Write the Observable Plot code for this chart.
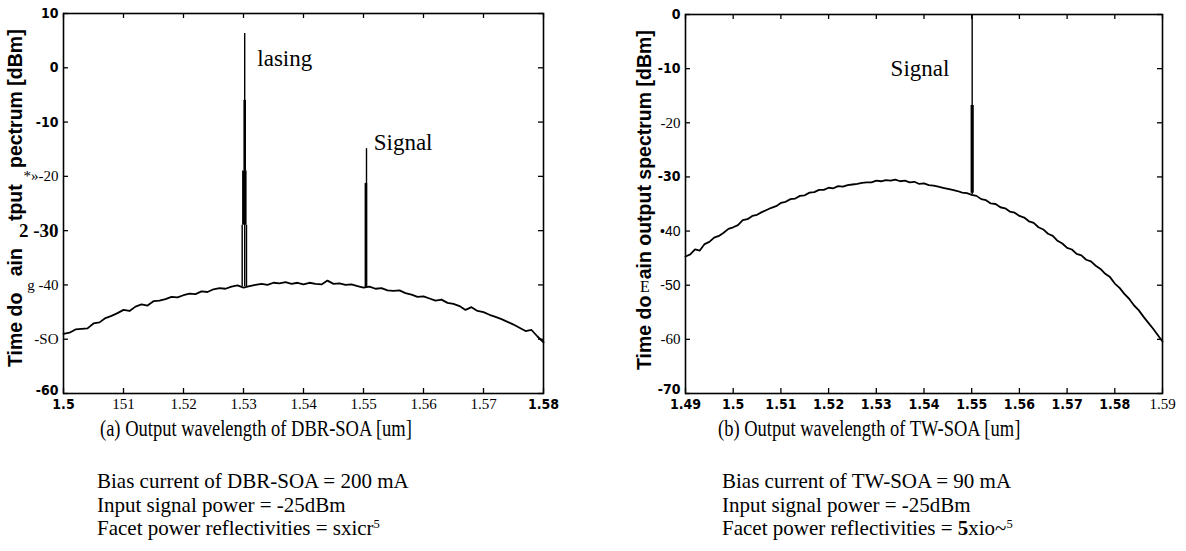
<!DOCTYPE html>
<html><head><meta charset="utf-8">
<script src="https://cdn.jsdelivr.net/npm/d3@7"></script>
<script src="https://cdn.jsdelivr.net/npm/@observablehq/plot@0.6"></script>
<style>
body{margin:0;background:#fff;width:1186px;height:551px;position:relative;overflow:hidden;font-family:"Liberation Serif","Times New Roman",serif;color:#000;}
.abs{position:absolute;white-space:nowrap;color:#000;}
.cap{font-size:18.5px;line-height:1;transform-origin:left top;transform:scaleY(1.2);}
.info{font-size:21px;line-height:23.5px;}
.info sup{font-size:0.6em;line-height:0;vertical-align:0.55em;}
.ytitle{font-family:"Liberation Sans",Arial,sans-serif;font-weight:bold;font-size:19.5px;line-height:1;transform-origin:0 0;transform:rotate(-90deg);}
.stray{font-size:16px;line-height:1;}
</style></head><body>
<div id="pa" class="abs" style="left:0;top:0"></div>
<div id="pb" class="abs" style="left:590px;top:0"></div>
<div class="abs ytitle" style="left:5.6px;top:367px">Time do&nbsp;&nbsp;&nbsp;ain&nbsp;&nbsp;&nbsp;&nbsp;&nbsp;tput&nbsp;&nbsp;&nbsp;pectrum [dBm]</div>
<div class="abs ytitle" style="left:634.6px;top:370px">Time do&nbsp;&nbsp;&nbsp;ain output spectrum [dBm]</div>
<div class="abs stray" style="left:640px;top:279px">E</div>
<div class="abs cap" style="left:100px;top:418px">(a) Output wavelength of DBR-SOA [um]</div>
<div class="abs cap" style="left:718px;top:418px">(b) Output wavelength of TW-SOA [um]</div>
<div class="abs info" style="left:97px;top:470px">Bias current of DBR-SOA = 200 mA<br>Input signal power = -25dBm<br>Facet power reflectivities = sxicr<sup>5</sup></div>
<div class="abs info" style="left:722px;top:470px">Bias current of TW-SOA = 90 mA<br>Input signal power = -25dBm<br>Facet power reflectivities = <b>5</b>xio~<sup>5</sup></div>
<script>
// ---------- DATA ----------
// (a) DBR-SOA output spectrum (ASE background), wavelength [um] / power [dBm]
const dbrWavelength = [1.500,1.501,1.502,1.503,1.504,1.505,1.506,1.507,1.508,1.509,
  1.510,1.511,1.512,1.513,1.514,1.515,1.516,1.517,1.518,1.519,
  1.520,1.521,1.522,1.523,1.524,1.525,1.526,1.527,1.528,1.529,
  1.530,1.531,1.532,1.533,1.534,1.535,1.536,1.537,1.538,1.539,
  1.540,1.541,1.542,1.543,1.544,1.545,1.546,1.547,1.548,1.549,
  1.550,1.551,1.552,1.553,1.554,1.555,1.556,1.557,1.558,1.559,
  1.560,1.561,1.562,1.563,1.564,1.565,1.566,1.567,1.568,1.569,
  1.570,1.571,1.572,1.573,1.574,1.575,1.576,1.577,1.578,1.579,1.580];
const dbrPower = [-49.0,-48.8,-48.2,-48.1,-48.0,-47.1,-46.9,-46.1,-45.7,-45.2,
  -44.6,-44.8,-44.0,-43.6,-43.8,-43.0,-42.9,-42.6,-42.2,-42.3,
  -41.9,-41.6,-41.7,-41.2,-41.3,-40.8,-40.6,-40.7,-40.3,-40.1,
  -40.5,-40.2,-40.0,-39.8,-40.0,-39.6,-39.7,-39.5,-39.8,-39.6,
  -39.9,-39.6,-39.8,-39.9,-39.2,-39.8,-39.7,-40.0,-39.9,-40.2,
  -40.5,-40.3,-40.7,-40.6,-41.0,-41.1,-41.0,-41.5,-41.8,-42.2,
  -42.1,-42.5,-42.9,-42.7,-43.3,-43.5,-43.9,-44.6,-44.1,-44.8,
  -45.0,-45.5,-45.9,-46.3,-46.8,-47.3,-47.9,-48.5,-48.3,-49.5,-50.6];
// (a) spectral lines: lasing mode near 1.530 um and signal at 1.550 um
const dbrThinWl   = [1.52978, 1.5302, 1.5305, 1.5505];
const dbrThinLow  = [-40.4, -40.3, -40.4, -40.5];
const dbrThinHigh = [-29, 6.3, -29, -14.9];
const dbrMidWl    = [1.5302, 1.5504];
const dbrMidLow   = [-19, -40.5];
const dbrMidHigh  = [-6, -21.3];
const dbrWideWl   = [1.53014];
const dbrWideLow  = [-29];
const dbrWideHigh = [-19];

// (b) TW-SOA output spectrum
const twWavelength = [1.490,1.491,1.492,1.493,1.494,1.495,1.496,1.497,1.498,1.499,
  1.500,1.501,1.502,1.503,1.504,1.505,1.506,1.507,1.508,1.509,
  1.510,1.511,1.512,1.513,1.514,1.515,1.516,1.517,1.518,1.519,
  1.520,1.521,1.522,1.523,1.524,1.525,1.526,1.527,1.528,1.529,
  1.530,1.531,1.532,1.533,1.534,1.535,1.536,1.537,1.538,1.539,
  1.540,1.541,1.542,1.543,1.544,1.545,1.546,1.547,1.548,1.549,
  1.550,1.551,1.552,1.553,1.554,1.555,1.556,1.557,1.558,1.559,
  1.560,1.561,1.562,1.563,1.564,1.565,1.566,1.567,1.568,1.569,
  1.570,1.571,1.572,1.573,1.574,1.575,1.576,1.577,1.578,1.579,
  1.580,1.581,1.582,1.583,1.584,1.585,1.586,1.587,1.588,1.589,1.590];
const twPower = [-44.7,-44.3,-43.4,-43.6,-42.4,-42.0,-41.2,-40.9,-40.3,-39.6,
  -39.3,-38.9,-38.0,-37.8,-37.2,-37.0,-36.5,-36.1,-35.7,-35.4,
  -34.8,-34.6,-34.1,-34.0,-33.5,-33.4,-32.9,-32.8,-32.4,-32.4,
  -32.0,-32.1,-31.7,-31.8,-31.5,-31.4,-31.3,-31.1,-31.0,-31.0,
  -30.7,-30.8,-30.6,-30.7,-30.5,-30.8,-30.7,-31.0,-30.9,-31.3,
  -31.2,-31.5,-31.6,-31.8,-32.0,-32.2,-32.4,-32.6,-32.9,-33.0,
  -33.3,-33.5,-34.1,-34.3,-34.9,-35.0,-35.6,-35.8,-36.4,-36.6,
  -37.2,-37.5,-38.2,-38.5,-39.3,-39.7,-40.5,-40.9,-41.8,-42.3,
  -43.1,-43.4,-44.2,-44.5,-45.3,-45.6,-46.4,-47.0,-47.9,-48.5,
  -49.7,-50.5,-51.6,-52.5,-53.7,-54.6,-55.8,-56.9,-58.0,-59.2,-60.4];
// (b) amplified signal line at 1.550 um
const twThinWl   = [1.5501];
const twThinLow  = [-33.3];
const twThinHigh = [0];
const twMidWl    = [1.5501];
const twMidLow   = [-33.0];
const twMidHigh  = [-16.8];

// ticks and tick labels
const dbrXTicks = [1.50,1.51,1.52,1.53,1.54,1.55,1.56,1.57,1.58];
const dbrXLabels = ["1.5","151","1.52","1.53","1.54","1.55","1.56","1.57","1.58"];
const dbrYTicks = [10,0,-10,-20,-30,-40,-50,-60];
const dbrYLabels = ["10","0","-10","*»-20","2 -30","g -40","-SO","-60"];
const twXTicks = [1.49,1.50,1.51,1.52,1.53,1.54,1.55,1.56,1.57,1.58,1.59];
const twXLabels = ["1.49","1.5","1.51","1.52","1.53","1.54","1.55","1.56","1.57","1.58","1.59"];
const twYTicks = [0,-10,-20,-30,-40,-50,-60,-70];
const twYLabels = ["0","-10","-20","-30","•40","-50","-60","-70"];

// annotations
const dbrNotes = ["lasing","Signal"];
const dbrNoteWl = [1.5323, 1.5517];
const dbrNoteP = [0.4, -15.2];
const twNotes = ["Signal"];
const twNoteWl = [1.533];
const twNoteP = [-11.3];

// ---------- DRAWING ----------
const SANS = '"Liberation Sans Narrow","DejaVu Sans Condensed","Liberation Sans",Arial,sans-serif';
const SANSR = '"Liberation Sans",Arial,sans-serif';
const SERIF = '"Liberation Serif","Times New Roman",serif';

const zip = (xs, ys) => xs.map((x, i) => ({x, y: ys[i]}));
const rules = (w, lo, hi) => w.map((x, i) => ({x, y1: lo[i], y2: hi[i]}));
const ticks = (vals, labs) => vals.map((v, i) => ({v, label: labs[i]}));

function panel({xDomain, yDomain, width, marginLeft, marginRight, marginTop,
                curve, thin, mid, wide, midWidth, xTicks, yTicks, notes, groups}) {
  const [x0, x1] = xDomain, [y0, y1] = yDomain;
  const plotH = 420 - marginTop - 27, plotW = width - marginLeft - marginRight;
  const tl = 5; // tick length in px
  const ty = (y1 - y0) * tl / plotH, tx = (x1 - x0) * tl / plotW;
  const pick = (arr, set) => arr.filter(d => set.has(d.label));
  const marks = [
    Plot.frame({stroke: "black", strokeWidth: 1.6}),
    Plot.ruleX(xTicks, {x: "v", y1: y0, y2: y0 + ty, stroke: "black", strokeWidth: 1.3}),
    Plot.ruleX(xTicks, {x: "v", y1: y1, y2: y1 - ty, stroke: "black", strokeWidth: 1.3}),
    Plot.ruleY(yTicks, {y: "v", x1: x0, x2: x0 + tx, stroke: "black", strokeWidth: 1.3}),
    Plot.ruleY(yTicks, {y: "v", x1: x1, x2: x1 - tx, stroke: "black", strokeWidth: 1.3}),
    Plot.line(curve, {x: "x", y: "y", stroke: "black", strokeWidth: 1.8, strokeLinejoin: "round"}),
    Plot.ruleX(thin, {x: "x", y1: "y1", y2: "y2", stroke: "black", strokeWidth: 1.4}),
    Plot.ruleX(mid, {x: "x", y1: "y1", y2: "y2", stroke: "black", strokeWidth: midWidth}),
    Plot.ruleX(wide, {x: "x", y1: "y1", y2: "y2", stroke: "black", strokeWidth: 4.5}),
    Plot.text(notes, {x: "x", y: "y", text: "t", textAnchor: "start", lineAnchor: "bottom",
      fontFamily: SERIF, fontSize: 23, fill: "black"})
  ];
  for (const g of groups.x) {
    marks.push(Plot.text(pick(xTicks, g.set), {x: "v", text: "label", frameAnchor: "bottom",
      dy: g.dy, lineAnchor: "middle", fontFamily: g.font, fontWeight: g.weight,
      fontSize: g.size, fill: "black"}));
  }
  for (const g of groups.y) {
    marks.push(Plot.text(pick(yTicks, g.set), {y: "v", text: "label", frameAnchor: "left",
      dx: g.dx ?? -5, dy: g.dy ?? 0, textAnchor: "end", lineAnchor: "middle", fontFamily: g.font,
      fontWeight: g.weight, fontSize: g.size, fill: "black"}));
  }
  return Plot.plot({
    width, height: 420, marginTop, marginBottom: 27, marginLeft, marginRight,
    x: {domain: xDomain, axis: null},
    y: {domain: yDomain, axis: null},
    style: {background: "transparent", overflow: "visible"},
    marks
  });
}

const a = panel({
  xDomain: [1.5, 1.58], yDomain: [-60, 10], width: 590, marginLeft: 63, marginRight: 47, marginTop: 13,
  curve: zip(dbrWavelength, dbrPower),
  thin: rules(dbrThinWl, dbrThinLow, dbrThinHigh),
  mid: rules(dbrMidWl, dbrMidLow, dbrMidHigh),
  wide: rules(dbrWideWl, dbrWideLow, dbrWideHigh),
  midWidth: 2.6,
  xTicks: ticks(dbrXTicks, dbrXLabels),
  yTicks: ticks(dbrYTicks, dbrYLabels),
  notes: dbrNotes.map((t, i) => ({t, x: dbrNoteWl[i], y: dbrNoteP[i]})),
  groups: {
    x: [
      {set: new Set(["1.5","1.58"]), font: SANS, weight: "bold", size: 14, dy: 11},
      {set: new Set(["151","1.52","1.53","1.54","1.55","1.56","1.57"]), font: SERIF, weight: "normal", size: 15, dy: 11}
    ],
    y: [
      {set: new Set(["10","0","-10"]), font: SANS, weight: "bold", size: 14},
      {set: new Set(["-60"]), font: SANS, weight: "bold", size: 14, dy: -3},
      {set: new Set(["*»-20","g -40","-SO"]), font: SERIF, weight: "normal", size: 15},
      {set: new Set(["2 -30"]), font: SERIF, weight: "bold", size: 19}
    ]
  }
});
document.getElementById("pa").append(a);

const b = panel({
  xDomain: [1.49, 1.59], yDomain: [-70, 0], width: 596, marginLeft: 95, marginRight: 24, marginTop: 14,
  curve: zip(twWavelength, twPower),
  thin: rules(twThinWl, twThinLow, twThinHigh),
  mid: rules(twMidWl, twMidLow, twMidHigh),
  wide: [],
  midWidth: 3.2,
  xTicks: ticks(twXTicks, twXLabels),
  yTicks: ticks(twYTicks, twYLabels),
  notes: twNotes.map((t, i) => ({t, x: twNoteWl[i], y: twNoteP[i]})),
  groups: {
    x: [
      {set: new Set(twXLabels.slice(0, 10)), font: SANS, weight: "bold", size: 14, dy: 11},
      {set: new Set(["1.59"]), font: SERIF, weight: "normal", size: 15, dy: 11}
    ],
    y: [
      {set: new Set(["0","-10","-30"]), font: SANS, weight: "bold", size: 14},
      {set: new Set(["-70"]), font: SANS, weight: "bold", size: 14, dy: -4},
      {set: new Set(["•40","-50"]), font: SANSR, weight: "normal", size: 14},
      {set: new Set(["-20","-60"]), font: SERIF, weight: "normal", size: 15}
    ]
  }
});
document.getElementById("pb").append(b);
</script>
</body></html>
